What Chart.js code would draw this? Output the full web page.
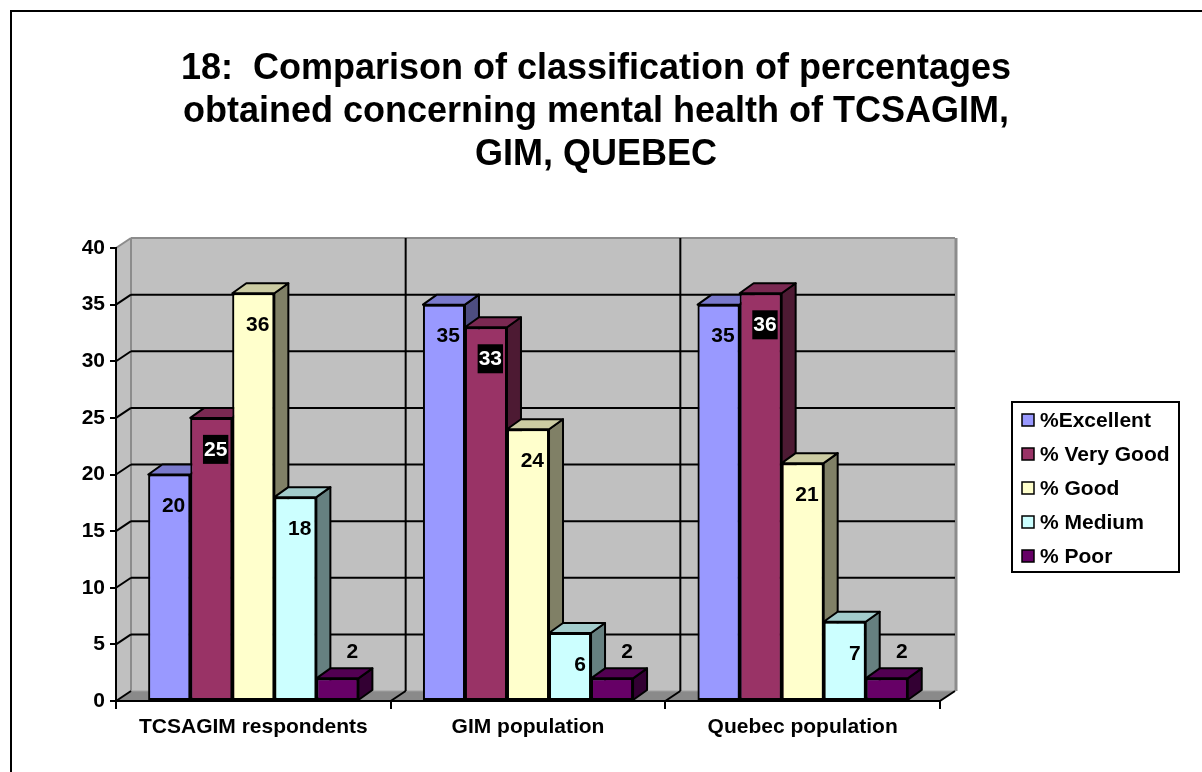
<!DOCTYPE html>
<html>
<head>
<meta charset="utf-8">
<title>Mental health comparison</title>
<script src="https://cdn.jsdelivr.net/npm/chart.js@4.4.1/dist/chart.umd.min.js"></script>
<style>
  html, body { margin: 0; padding: 0; background: #fff; }
  #chart { display: block; }
</style>
</head>
<body>
<canvas id="chart" width="1202" height="772"></canvas>
<script>
// Chart data
const categories = ['TCSAGIM respondents', 'GIM population', 'Quebec population'];
const excellent = [20, 35, 35];
const veryGood = [25, 33, 36];
const good = [36, 24, 21];
const medium = [18, 6, 7];
const poor = [2, 2, 2];
const yTicks = [0, 5, 10, 15, 20, 25, 30, 35, 40];
const titleLines = [
  '18:  Comparison of classification of percentages',
  'obtained concerning mental health of TCSAGIM,',
  'GIM, QUEBEC'
];

const FONT = '"Liberation Sans", Arial, sans-serif';
Chart.defaults.font.family = FONT;
Chart.defaults.color = '#000';

// 3D depth offsets (pixels)
const WALL_DX = 15, WALL_DY = -10;
const BAR_DX = 14, BAR_DY = -10;

// darken a hex colour by factor f
function shade(hex, f) {
  const n = parseInt(hex.slice(1), 16);
  const r = Math.round(((n >> 16) & 255) * f);
  const g = Math.round(((n >> 8) & 255) * f);
  const b = Math.round((n & 255) * f);
  return `rgb(${r},${g},${b})`;
}

function poly(ctx, pts, fill, stroke, lw) {
  ctx.beginPath();
  ctx.moveTo(pts[0][0], pts[0][1]);
  for (let i = 1; i < pts.length; i++) ctx.lineTo(pts[i][0], pts[i][1]);
  ctx.closePath();
  if (fill) { ctx.fillStyle = fill; ctx.fill(); }
  if (stroke) { ctx.strokeStyle = stroke; ctx.lineWidth = lw || 1; ctx.stroke(); }
}

function line(ctx, x1, y1, x2, y2, color, lw) {
  ctx.beginPath();
  ctx.moveTo(x1, y1);
  ctx.lineTo(x2, y2);
  ctx.strokeStyle = color;
  ctx.lineWidth = lw;
  ctx.stroke();
}

// background, frame, title, walls, floor and gridlines
const wallsPlugin = {
  id: 'walls',
  beforeDraw(chart) {
    const { ctx, chartArea: a, scales: { x, y } } = chart;
    ctx.save();
    ctx.fillStyle = '#fff';
    ctx.fillRect(0, 0, chart.width, chart.height);

    // outer frame (runs off the right and bottom of the picture)
    ctx.beginPath();
    ctx.moveTo(11, chart.height);
    ctx.lineTo(11, 11);
    ctx.lineTo(chart.width, 11);
    ctx.strokeStyle = '#000';
    ctx.lineWidth = 2;
    ctx.stroke();

    // title, centred on the whole picture
    ctx.font = 'bold 36px ' + FONT;
    ctx.fillStyle = '#000';
    ctx.textAlign = 'center';
    ctx.textBaseline = 'middle';
    titleLines.forEach((t, i) => ctx.fillText(t, 596, 69 + i * 43));

    // back wall
    poly(ctx, [[a.left + WALL_DX, a.top + WALL_DY], [a.right + WALL_DX, a.top + WALL_DY],
      [a.right + WALL_DX, a.bottom + WALL_DY], [a.left + WALL_DX, a.bottom + WALL_DY]], '#c0c0c0');
    // left side wall
    poly(ctx, [[a.left, a.top], [a.left + WALL_DX, a.top + WALL_DY],
      [a.left + WALL_DX, a.bottom + WALL_DY], [a.left, a.bottom]], '#c0c0c0');
    // floor
    poly(ctx, [[a.left, a.bottom], [a.left + WALL_DX, a.bottom + WALL_DY],
      [a.right + WALL_DX, a.bottom + WALL_DY], [a.right, a.bottom]], '#8a8a8a');

    // grey wall edges
    const edge = '#8c8c8c';
    line(ctx, a.left, a.top, a.left + WALL_DX, a.top + WALL_DY, edge, 2);
    line(ctx, a.left + WALL_DX, a.top + WALL_DY, a.right + WALL_DX, a.top + WALL_DY, edge, 2);
    line(ctx, a.right + WALL_DX + 1, a.top + WALL_DY, a.right + WALL_DX + 1, a.bottom + WALL_DY, edge, 3);
    line(ctx, a.left + WALL_DX, a.top + WALL_DY, a.left + WALL_DX, a.bottom + WALL_DY, edge, 2);
    line(ctx, a.left + WALL_DX, a.bottom + WALL_DY, a.right + WALL_DX, a.bottom + WALL_DY, '#a0a0a0', 1);

    // horizontal gridlines on back wall + diagonals on left wall
    yTicks.forEach(v => {
      const py = y.getPixelForValue(v);
      if (v > 0 && v < 40) {
        line(ctx, a.left + WALL_DX, py + WALL_DY, a.right + WALL_DX, py + WALL_DY, '#000', 2);
      }
      if (v < 40) line(ctx, a.left, py, a.left + WALL_DX, py + WALL_DY, '#000', 2);
    });

    // category boundaries: vertical gridlines on back wall, diagonals on floor
    const n = categories.length;
    for (let k = 1; k <= n; k++) {
      const b = k === n ? a.right : (x.getPixelForValue(k - 1) + x.getPixelForValue(k)) / 2;
      if (k < n) line(ctx, b + WALL_DX, a.top + WALL_DY, b + WALL_DX, a.bottom + WALL_DY, '#000', 2);
      line(ctx, b, a.bottom, b + WALL_DX, a.bottom + WALL_DY, '#000', 2);
    }
    ctx.restore();
  },

  // side and top faces, redrawing the front faces in left-to-right order
  afterDatasetsDraw(chart) {
    const { ctx } = chart;
    const metas = chart.data.datasets.map((ds, i) => chart.getDatasetMeta(i));
    ctx.save();
    ctx.lineJoin = 'round';
    for (let c = 0; c < categories.length; c++) {
      metas.forEach((meta, d) => {
        const el = meta.data[c];
        const ds = chart.data.datasets[d];
        const { x, y, base, width } = el.getProps(['x', 'y', 'base', 'width'], true);
        const l = x - width / 2, r = x + width / 2;
        poly(ctx, [[r, y], [r + BAR_DX, y + BAR_DY], [r + BAR_DX, base + BAR_DY], [r, base]],
          shade(ds.backgroundColor, 0.5), '#000', 2);
        poly(ctx, [[l, y], [l + BAR_DX, y + BAR_DY], [r + BAR_DX, y + BAR_DY], [r, y]],
          shade(ds.backgroundColor, 0.8), '#000', 2);
        el.draw(ctx);
      });
    }

    // value labels
    ctx.font = 'bold 21px ' + FONT;
    ctx.textBaseline = 'middle';
    metas.forEach((meta, d) => {
      const ds = chart.data.datasets[d];
      meta.data.forEach((el, i) => {
        const v = ds.data[i];
        const { x, y, width } = el.getProps(['x', 'y', 'width'], true);
        let tx, ty;
        const w = ctx.measureText(String(v)).width;
        if (v >= 5) {
          tx = x + width / 2 - 5 - w / 2;
          ty = y + 31;
        } else {
          tx = x + 15;
          ty = y - 27;
        }
        ctx.textAlign = 'center';
        if (ds.invertLabel) {
          ctx.fillStyle = '#000';
          ctx.fillRect(tx - w / 2 - 1, ty - 14, w + 2, 29);
          ctx.fillStyle = '#fff';
        } else {
          ctx.fillStyle = '#000';
        }
        ctx.fillText(String(v), tx, ty + 1);
      });
    });
    ctx.restore();
  },

  // legend box
  afterDraw(chart) {
    const { ctx } = chart;
    ctx.save();
    ctx.fillStyle = '#fff';
    ctx.fillRect(1012, 402, 167, 170);
    ctx.strokeStyle = '#000';
    ctx.lineWidth = 2;
    ctx.strokeRect(1012, 402, 167, 170);
    ctx.font = 'bold 21px ' + FONT;
    ctx.textBaseline = 'middle';
    ctx.textAlign = 'left';
    chart.data.datasets.forEach((ds, i) => {
      const cy = 420 + i * 34;
      ctx.fillStyle = ds.backgroundColor;
      ctx.fillRect(1022, cy - 6, 12, 12);
      ctx.lineWidth = 1.5;
      ctx.strokeRect(1022, cy - 6, 12, 12);
      ctx.fillStyle = '#000';
      ctx.fillText(ds.label, 1040, cy + 1);
    });
    ctx.restore();
  }
};

const barStyle = { borderColor: '#000', borderWidth: 2, borderSkipped: false };

const chart = new Chart(document.getElementById('chart'), {
  type: 'bar',
  data: {
    labels: categories,
    datasets: [
      { label: '%Excellent', data: excellent, backgroundColor: '#9999ff', ...barStyle },
      { label: '% Very Good', data: veryGood, backgroundColor: '#993366', invertLabel: true, ...barStyle },
      { label: '% Good', data: good, backgroundColor: '#ffffcc', ...barStyle },
      { label: '% Medium', data: medium, backgroundColor: '#ccffff', ...barStyle },
      { label: '% Poor', data: poor, backgroundColor: '#660066', ...barStyle }
    ]
  },
  options: {
    responsive: false,
    animation: false,
    events: [],
    layout: { padding: { left: 0, right: 262, top: 248, bottom: 0 } },
    datasets: {
      bar: { categoryPercentage: 0.765, barPercentage: 1.0 }
    },
    plugins: {
      legend: { display: false },
      tooltip: { enabled: false },
      title: { display: false }
    },
    scales: {
      x: {
        grid: { display: true, drawOnChartArea: false, offset: true, color: '#000', lineWidth: 2, tickLength: 8 },
        border: { display: true, color: '#000', width: 2 },
        ticks: { font: { size: 21, weight: 'bold' }, color: '#000', padding: 6, maxRotation: 0 },
        afterFit(scale) { scale.height = 71; }
      },
      y: {
        min: 0,
        max: 40,
        grid: { display: true, drawOnChartArea: false, color: '#000', lineWidth: 2, tickLength: 6 },
        border: { display: true, color: '#000', width: 2 },
        ticks: { font: { size: 21, weight: 'bold' }, color: '#000', padding: 5 },
        afterBuildTicks(scale) { scale.ticks = yTicks.map(v => ({ value: v })); },
        afterFit(scale) { scale.width = 116; }
      }
    }
  },
  plugins: [wallsPlugin]
});
</script>
</body>
</html>
